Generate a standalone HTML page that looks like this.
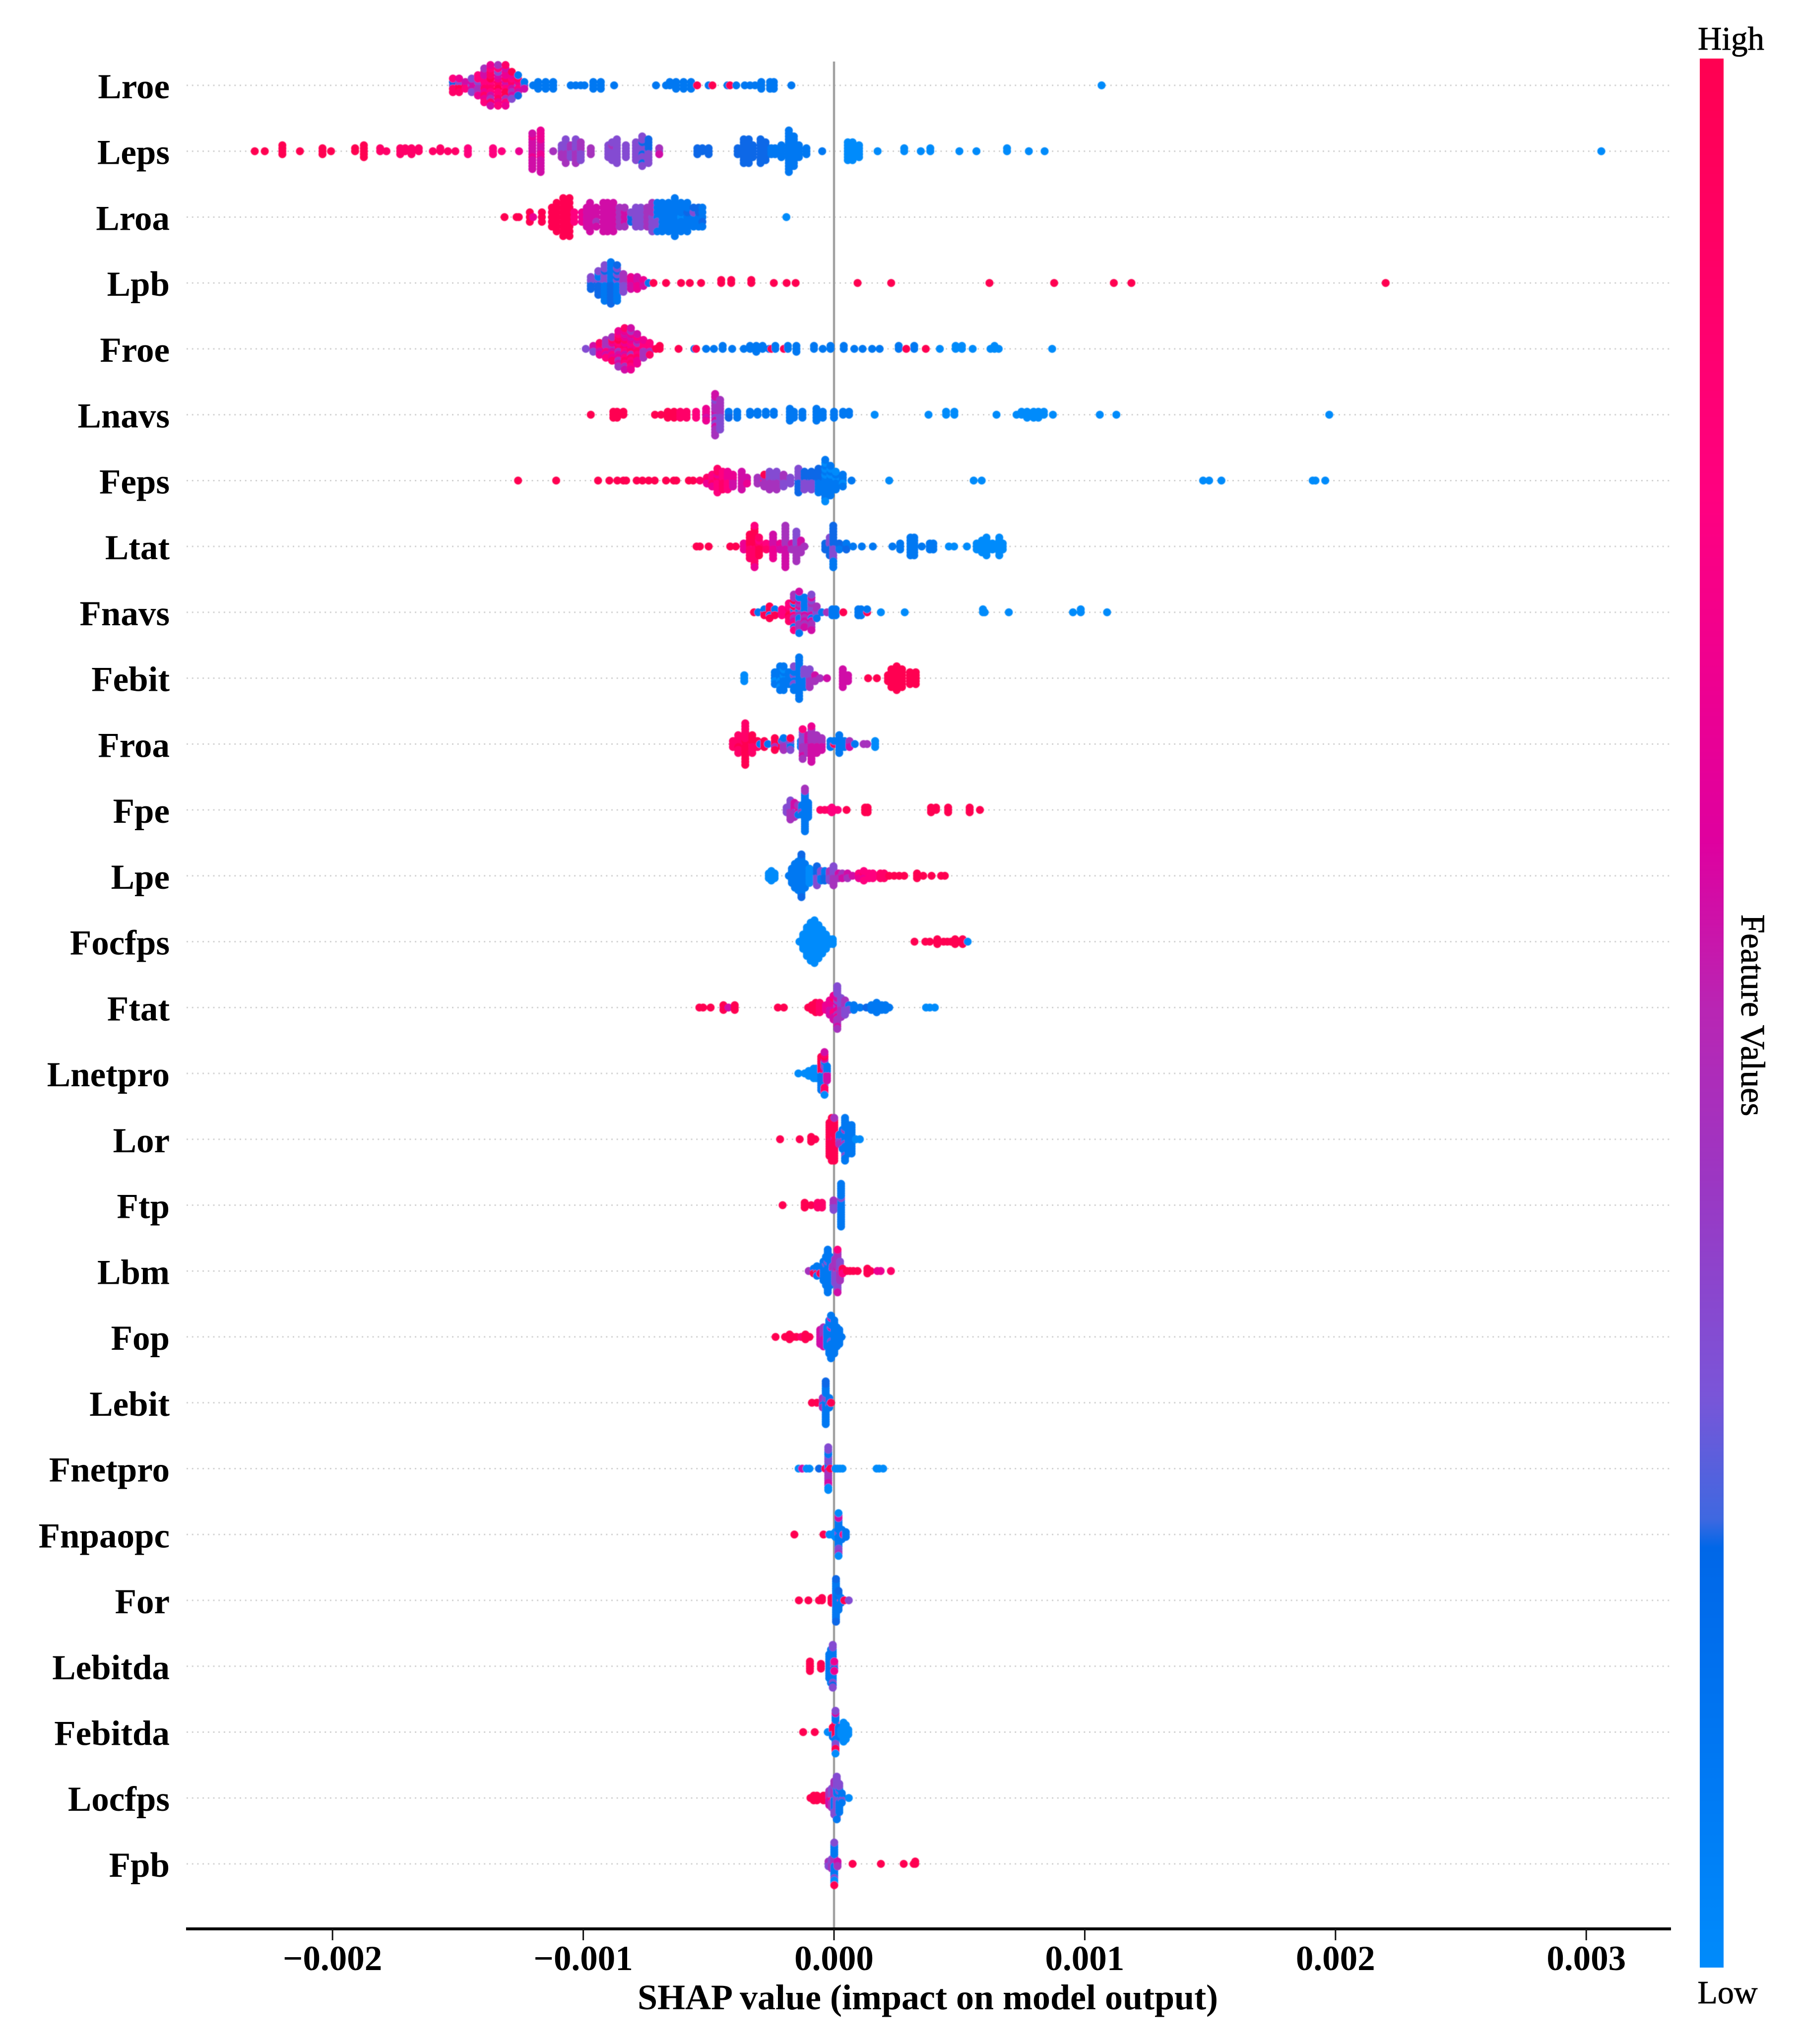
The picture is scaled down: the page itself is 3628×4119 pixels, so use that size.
<!DOCTYPE html>
<html lang="en">
<head>
<meta charset="utf-8">
<title>SHAP summary plot</title>
<style>
html,body{margin:0;padding:0;background:#fff;}
svg{display:block;}
text{font-family:"Liberation Serif",serif;fill:#000;}
.bold{font-weight:bold;}
</style>
</head>
<body>
<svg id="chart" xmlns="http://www.w3.org/2000/svg" width="3628" height="4119" viewBox="0 0 3628 4119">
  <defs>
    <linearGradient id="cbarGrad" x1="0" y1="1" x2="0" y2="0">
      <stop offset="0" stop-color="#008bfb"/>
      <stop offset="0.095" stop-color="#007af4"/>
      <stop offset="0.22" stop-color="#0067e8"/>
      <stop offset="0.235" stop-color="#3f68e0"/>
      <stop offset="0.30" stop-color="#7a55d8"/>
      <stop offset="0.41" stop-color="#9b37c3"/>
      <stop offset="0.50" stop-color="#b826b4"/>
      <stop offset="0.59" stop-color="#df009f"/>
      <stop offset="0.77" stop-color="#ff0080"/>
      <stop offset="1" stop-color="#ff0051"/>
    </linearGradient>
    <filter id="softDots" x="-2%" y="-2%" width="104%" height="104%">
      <feGaussianBlur stdDeviation="0.9"/>
    </filter>
  </defs>
  <g id="gridLayer"></g>
  <line x1="1681" y1="124" x2="1681" y2="3887" stroke="#a0a0a0" stroke-width="4.5"/>
  <g id="dotLayer" filter="url(#softDots)"></g>
  <g id="labelLayer"></g>
  <line x1="375" y1="3887" x2="3368" y2="3887" stroke="#0a0a0a" stroke-width="6"/>
  <g id="tickLayer"></g>
  <text class="bold" x="1870" y="4049" font-size="72" text-anchor="middle">SHAP value (impact on model output)</text>
  <rect x="3426" y="118" width="48" height="3847" fill="url(#cbarGrad)"/>
  <text x="3489" y="100" font-size="67" text-anchor="middle" stroke="#000" stroke-width="0.8">High</text>
  <text x="3482" y="4037" font-size="66" text-anchor="middle" stroke="#000" stroke-width="0.8">Low</text>
  <text transform="translate(3510,2046) rotate(90)" font-size="69" text-anchor="middle" stroke="#000" stroke-width="0.8">Feature Values</text>
</svg>
<script>
/* Feature names, top to bottom */
const features=["Lroe","Leps","Lroa","Lpb","Froe","Lnavs","Feps","Ltat","Fnavs","Febit","Froa","Fpe","Lpe","Focfps","Ftat","Lnetpro","Lor","Ftp","Lbm","Fop","Lebit","Fnetpro","Fnpaopc","For","Lebitda","Febitda","Locfps","Fpb"];
const xTicks=[-0.002,-0.001,0,0.001,0.002,0.003];
const xTickLabels=["\u22120.002","\u22120.001","0.000","0.001","0.002","0.003"];

/* SHAP values in units of 1e-5. Each entry of *Feature holds one digit (0 low .. 9 high)
   per sample sharing that SHAP value, listed from the row centre outwards. */
const lroeShap=[-152,-149.5,-147,-144.5,-142,-139.5,-137,-134,-131,-128.5,-126,-123.5,-120,-118,-115,-112,-105,-103,-101,-99.5,-96,-93,-87.7,-71,-67,-65.5,-63,-60,-57,-54.6,-50,-48.5,-42.5,-41.5,-39,-35.6,-33.5,-31.5,-29,-25.5,-24,-17,106.7];
const lroeFeature=["32878","93968","857","35533","6347476","57876585647","8789785847865","7896757387647","6578969645786","785746593","3678512","315","1","111","111","111","1","1","1","1","111","111","1","1","1","11","111","111","111","9","1","9","1","9","1","1","1","1","111","111","111","1","0"];
const lepsShap=[-231,-227,-220,-213,-204,-200.6,-191,-187.5,-181,-178.5,-173,-171,-168.5,-165.6,-160,-157,-154,-151,-146,-136,-132.5,-125.6,-120.3,-117,-112,-108.6,-107,-105,-103,-101,-97,-90,-88.5,-86.6,-83,-79,-76.5,-74,-69.7,-54.5,-52.5,-50,-38.4,-36,-34,-32.4,-29.3,-27.3,-25,-23.5,-21,-18,-16,-14,-11,-4.7,5.5,7.4,10,17.4,28,34.6,38.4,50,56.8,69,77.7,84,306];
const lepsFeature=["9","9","9999","9","999","9","99","99999","88","8","888","88","888","88","8","88","8","8","777","777","7","6","5555655556555","556565565656565","4","33434","434343434","34343","434343434","3434343","444","33333","3334333","333333333","33333","3333333","33233233233","323232323","345","222","22","222","222","222222222","222222222","22222","222222222","2222222","111","111","11111","111111111111111","11111111111","11111","111","1","0000000","0000000","00000","0","00","0","00","0","0","00","0","0","0"];
const lroaShap=[-131.4,-126.6,-125.7,-121.3,-120,-116.5,-112.5,-110.6,-108,-105.5,-103.6,-100.5,-98.6,-97.3,-94.8,-92,-90.3,-88,-85.5,-83.5,-81,-79,-77,-74.5,-72.5,-70.5,-68.5,-66,-63.5,-61,-58.5,-56,-54,-52.5,-19];
const lroaFeature=["9","9","9","999","6","999","99999","9999999","999999999","999999999","777","666","55555","5555555","55455","5555555","5555555","5555555","44444","55544","232","33333","33333","44444","3434343","1131311","1111111","1111111","111111111","0111111","1211111","13121","12121","11211","0"];
const lpbShap=[-97,-94,-91.5,-89,-86.5,-84,-81,-78.5,-76,-74,-72,-67,-61,-57.5,-53,-45,-41,-33,-24,-18.9,-15.3,9.4,22.8,62,87.8,111.6,118.6,220];
const lpbFeature=["23232","232121232","1313131213131","212121212121212","1312131213121","3434343","56565","65656","565","1","9","9","9","9","9","99","99","99","9","9","9","9","9","9","9","9","9","9"];
const froeShap=[-99,-96,-93.5,-91,-88.5,-86,-83.5,-81,-78.5,-76,-73.5,-71,-69.5,-62,-55.7,-55,-51,-47.9,-44.4,-40.6,-36,-33.5,-31,-28.5,-25.9,-25,-23.4,-20,-18.4,-15,-8,-4.5,-1.4,3.9,8.1,11.4,15.2,18.2,25.8,28.8,32,36.6,42.2,48.5,51,55.3,62.4,64,65.7,87];
const froeFeature=["3","453","57586","6474547","545678648","6847596847564","787658768576485","868746857684756","67847587656","5747464","57478","9","99","9","1","9","1","1","11","1","1","11","111","11","1","9","11","9","11","111","11","1","11","11","1","1","1","1","11","9","11","9","0","00","00","0","0","00","0","0"];
const lnavsShap=[-97,-88,-86.5,-84,-71.4,-69,-66.3,-63.8,-61.3,-58.8,-55,-51,-47.4,-45.4,-42,-38.6,-33.5,-30.5,-27.2,-24,-17.6,-16,-12.6,-7,-4.5,0,3.6,6,16.2,37.7,44.7,48,64.8,72.8,74.8,77,79.6,81.5,83.7,87.3,106,112.6,197.5];
const lnavsFeature=["9","999","999","99","9","9","999","999","888","888","777","66566","453454345345454","34343434343","212","111","11","11","11","11","11111","111","111","11111","111","111","11","11","0","0","00","00","0","0","00","000","000","000","00","0","0","0","0"];
const fepsShap=[-126,-110.8,-94.1,-89.6,-86.4,-84,-82.9,-78.7,-76.4,-73.9,-71.5,-67,-63.9,-62.9,-57.9,-56.2,-53.5,-50.7,-48.6,-46.5,-44.4,-42.4,-40.3,-36.8,-34.7,-30.5,-27.8,-25.7,-22.9,-20.1,-17.4,-14.2,-11.8,-9,-6.2,-3.5,-1.4,0.7,3.5,7,22,55.7,58.9,147.2,149.6,154.5,190.9,192,195.9];
const fepsFeature=["9","9","9","9","9","9","9","9","9","9","9","9","9","9","9","9","8","786","77876","787678787","8787878","7676767","56565","5555555","556","444","74494","4343434","4343434","34343","333","232323232","3232323","3232323","121212121","111011101110110","11101110111","1011101","11011","1","0","0","0","0","0","0","0","0","0"];
const ltatShap=[-54.8,-53.5,-50,-41.4,-39.2,-36,-33.6,-31.7,-29.9,-27,-24.3,-21.5,-19.4,-16.9,-15,-13.2,-11.8,-3.5,-1.7,-0.3,2.1,4.9,7.6,11.1,15.5,23.3,26.4,30.5,32,35,38.2,39.6,45.8,47.9,53,56.9,59,60.8,63.2,65.9,67.3];
const ltatFeature=["9","9","9","9","9","666","898989898","798989898989876","9897989","878","656565656","565","545454545454545","454","43434343434","45454","4","222","2323232","323232323212121","121","212","1","1","1","1","111","1111111","1111111","1","111","111","0","0","0","000","00000","0000000","000","0000000","000"];
const fnavsShap=[-31.9,-30.3,-27.8,-25.7,-23.6,-20.8,-18,-16,-13.9,-11.8,-9,-6.9,-4.9,-2.8,-0.7,0.7,3.7,9.7,10.8,13.2,18.7,28.2,59.4,60.1,69.7,95.3,98.4,108.9];
const fnavsFeature=["9","1","919","99199","919","777","7897878","4179415974147","414514154141451","41514151415","4353145345435","14341","1","4","111","111","9","111","111","91","0","0","00","0","0","0","00","0"];
const febitShap=[-35.8,-23.6,-21.5,-20.1,-18,-16,-13.9,-11.8,-9.7,-7.6,-5.6,-2.8,3.5,5.6,13.6,17.1,21.5,22.9,25,27.1,30.3,32.6];
const febitFeature=["000","11011","110111011","101110111","11111","131131131","111111111111111","1313131","4343434","454","4","5","5555555","555","9","9","999","9999999","999999999","9999999","99999","99999"];
const froaShap=[-40.3,-38.2,-35.4,-32.6,-30.5,-29.5,-27.8,-26.4,-23.6,-20.8,-20.1,-17.4,-13.2,-12.5,-10.4,-9,-6.9,-4.9,-1.4,0,2.1,4.2,6.2,8.3,11.8,13.2,16.4];
const froaFeature=["888","8898888","899898989898989","8989898","898","1","999","1","99499","919","43414","13193","111","43434343574","4545454","5454545454565","5454545","54545","111","91","1111111","111","545","1","4","4","000"];
const fpeShap=[-18.9,-17.4,-15.8,-14.3,-12.8,-11.6,-10.3,-5.5,-3.7,-2.2,-0.9,0.3,1.5,5,12.4,13.4,38.7,40.7,45.5,54.1,58.2];
const fpeFeature=["333","434343434","6545454","16541","11411","1111111111111114141","1111111","8","8","8","777","7","7","9","999","999","999","99","999","999","9"];
const lpeShap=[-26,-25,-23.7,-18,-16.8,-15.6,-14.3,-13,-11.6,-9.8,-6.8,-5.2,-3.7,-1.7,-0.2,1.8,3.3,5.4,7.4,9.9,11.9,14,15.5,18.5,20,22,24,26,28,33.1,35.6,38.9,42.7,44.2];
const lpeFeature=["000","00000","000","1","1111111","11111111111","1111111111111","1111111111111111122","11111111111","0000000","323232323","13131","21212","34343","434343434","454","545","454","5","776","78677","777","777","888","888","9","9","9","9","999","9","9","9","9"];
const focfpsShap=[-13.8,-12.3,-10.8,-9.3,-7.8,-6.2,-4.7,-3.2,-1.7,-0.5,32.1,36.4,38.2,41.2,43.7,45.2,46.7,48.3,49.8,51.3,53.3];
const focfpsFeature=["0","0000000","0000000000000","00000000000000000","0000000000000000000","000000000000000","00000000000","0000000","000","000","9","9","9","999","9","9","9","999","9","999","0"];
const ftatShap=[-53.7,-52.2,-49.2,-44.1,-42.1,-39.6,-22.4,-20,-10.3,-8.8,-7.3,-5.7,-3.2,-1.7,-0.2,1.3,2.8,4.4,5.9,7.9,10.4,12.9,14.9,17,19,20.5,22,36.7,38.2,40.2];
const ftatFeature=["9","9","9","499","5","999","9","9","9","999","99999","88888","666","6656565","56567678565","4365634565434343534","434343434","3434343","313","111","1","2","111","11111","111","111","1","0","0","0"];
const lnetproShap=[-14.2,-11.7,-10.1,-8.1,-7.1,-5.1,-3.8,-2.8];
const lnetproFeature=["0","0","000","00000","00000","191919191919191","1815131311158988850","5151515"];
const lorShap=[-21.5,-13.7,-9.1,-7.5,-1.8,-0.9,0.1,2.1,3.4,4.4,5.7,7,8.7,10.3];
const lorFeature=["9","9","999","9","999999999999999","6999999999999999999","5799999999999999949","41314","114141411","1111411411111131111","1111111111111","1111111111111","0","0"];
const ftpShap=[-20.5,-11.7,-9.1,-6.5,-4.8,-0.2,2.8];
const ftpFeature=["9","999","9","888","888","34343","1111131111111111111"];
const lbmShap=[-10.1,-8.1,-6.8,-5.5,-4.2,-3.2,-2.5,-1.5,-0.5,0.5,1.4,2.4,3.4,5.1,6.4,7.7,9.4,13.3,14.6,17.3,18.6,22.7];
const lbmFeature=["4","919","11911","119","111111111","1111131111111","1111111311111111111","1111111111111","15141","34343434343","7534343434343434375","734343434","997","9","9","9","9","999","9","6","6","8"];
const fopShap=[-23.3,-19.5,-17.7,-16.4,-15,-13.1,-11.4,-9.8,-5.5,-4.2,-2.8,-1.9,-1.2,0.1,1.1,2.1,3];
const fopFeature=["9","9","999","9","9","8","999","9","5555555","445454545","111111111","111111111111111","1111311511111115111","111111111111111","111111111","1111111","1"];
const lebitShap=[-8.8,-6.8,-4.5,-3.3,-1.9,-1.2];
const lebitFeature=["9","9","44144","1113131111111112121","11311","9"];
const fnetproShap=[-14.1,-12.7,-11,-9.8,-6,-3.5,-2.3,-1.5,0.5,1.4,2.4,3.4,17,18,19.6];
const fnetproFeature=["0","5","0","0","2","9","1151434343415153030","9","0","0","0","0","0","0","0"];
const fnpaopcShap=[-15.8,-4.2,-1.9,-0.9,0.5,1.8,3.1,3.8,4.7];
const fnpaopcFeature=["9","9","0","0","000","3311111111113535400","11111","7","111"];
const forShap=[-14,-10.2,-6,-4.8,-1,0.8,1.8,2.8,4.1,5.9];
const forFeature=["9","9","9","99","999","1111111111111111122","111211121","911","9","3"];
const lebitdaShap=[-9.6,-5.2,-1.9,-1.2,-0.5,0.1];
const lebitdaFeature=["99999","999","11111111111","111111111111111","1111111111111133233","63266"];
const febitdaShap=[-12.3,-7.7,-2.5,-0.5,0.6,1.8,2.8,3.8,4.7,5.7];
const febitdaFeature=["9","9","0","19191","9999991911313195930","11111","000","000000000","0000000","000"];
const locfpsShap=[-9.4,-8.1,-6.8,-5.5,-4.2,-3.2,-1.9,-0.9,0.1,1.1,2.1,3.1,5.9];
const locfpsFeature=["9","999","999","9","999","999","4454545","837343434","141414141314343","3331313133333333331","3131131113131","11311","0"];
const fpbShap=[-2.2,-0.9,0.1,1.4,7.4,18.7,27.8,31.8,32.4];
const fpbFeature=["343","43434","4414141111113101039","454","9","9","9","9","99"];

const rowShap=[lroeShap,lepsShap,lroaShap,lpbShap,froeShap,lnavsShap,fepsShap,ltatShap,fnavsShap,febitShap,froaShap,fpeShap,lpeShap,focfpsShap,ftatShap,lnetproShap,lorShap,ftpShap,lbmShap,fopShap,lebitShap,fnetproShap,fnpaopcShap,forShap,lebitdaShap,febitdaShap,locfpsShap,fpbShap];
const rowFeature=[lroeFeature,lepsFeature,lroaFeature,lpbFeature,froeFeature,lnavsFeature,fepsFeature,ltatFeature,fnavsFeature,febitFeature,froaFeature,fpeFeature,lpeFeature,focfpsFeature,ftatFeature,lnetproFeature,lorFeature,ftpFeature,lbmFeature,fopFeature,lebitFeature,fnetproFeature,fnpaopcFeature,forFeature,lebitdaFeature,febitdaFeature,locfpsFeature,fpbFeature];

const NS="http://www.w3.org/2000/svg";
const shapUnit=1e-5;
const rowStep=132.74;
function xScale(v){return 1681+v*505400;}
function yScale(i){return 172+i*rowStep;}

const cmapPos=[0,0.095,0.22,0.235,0.30,0.41,0.50,0.59,0.77,1];
const cmapRGB=[[0,139,251],[0,122,244],[0,103,232],[63,104,224],[122,85,216],[155,55,195],[184,38,180],[223,0,159],[255,0,128],[255,0,81]];
function featureColor(t){
  let k=0;
  while(k<cmapPos.length-2&&t>cmapPos[k+1])k++;
  const f=(t-cmapPos[k])/(cmapPos[k+1]-cmapPos[k]);
  const a=cmapRGB[k],b=cmapRGB[k+1];
  return "rgb("+Math.round(a[0]+(b[0]-a[0])*f)+","+Math.round(a[1]+(b[1]-a[1])*f)+","+Math.round(a[2]+(b[2]-a[2])*f)+")";
}

const gridLayer=document.getElementById("gridLayer");
const dotLayer=document.getElementById("dotLayer");
const labelLayer=document.getElementById("labelLayer");
const tickLayer=document.getElementById("tickLayer");

features.forEach(function(name,i){
  const y=yScale(i);
  const grid=document.createElementNS(NS,"line");
  
  
  grid.setAttribute("x1",376);
  grid.setAttribute("x2",3368);
  grid.setAttribute("y1",y);
  grid.setAttribute("y2",y);
  grid.setAttribute("stroke","#d2d2d2");
  grid.setAttribute("stroke-width",3);
  grid.setAttribute("stroke-dasharray","3 7.7");
  gridLayer.appendChild(grid);

  const label=document.createElementNS(NS,"text");
  
  
  label.setAttribute("class","bold");
  label.setAttribute("x",342);
  label.setAttribute("y",y+26);
  label.setAttribute("font-size",71);
  label.setAttribute("text-anchor","end");
  label.textContent=name;
  labelLayer.appendChild(label);

  const shap=rowShap[i];
  const feat=rowFeature[i];
  let maxLayer=0;
  feat.forEach(function(s){maxLayer=Math.max(maxLayer,Math.ceil((s.length-1)/2));});
  const spacing=0.36*rowStep/(maxLayer+1);
  const group=document.createElementNS(NS,"g");
  
  
  shap.forEach(function(v,c){
    const stack=feat[c]||"";
    for(let j=0;j<stack.length;j++){
      const layer=Math.ceil(j/2)*(j%2?1:-1);
      const dot=document.createElementNS(NS,"circle");
      
      
      dot.setAttribute("cx",xScale(v*shapUnit).toFixed(1));
      dot.setAttribute("cy",(y-layer*spacing).toFixed(1));
      dot.setAttribute("r",8);
      dot.setAttribute("fill",featureColor(Number(stack[j])/9));
      group.appendChild(dot);
    }
  });
  dotLayer.appendChild(group);
});

xTicks.forEach(function(t,i){
  const x=xScale(t);
  const tick=document.createElementNS(NS,"line");
  
  
  tick.setAttribute("x1",x);
  tick.setAttribute("x2",x);
  tick.setAttribute("y1",3887);
  tick.setAttribute("y2",3910);
  tick.setAttribute("stroke","#111");
  tick.setAttribute("stroke-width",3);
  tickLayer.appendChild(tick);
  const lab=document.createElementNS(NS,"text");
  
  
  lab.setAttribute("class","bold");
  lab.setAttribute("x",x);
  lab.setAttribute("y",3970);
  lab.setAttribute("font-size",71);
  lab.setAttribute("text-anchor","middle");
  lab.textContent=xTickLabels[i];
  tickLayer.appendChild(lab);
});
</script>
</body>
</html>
